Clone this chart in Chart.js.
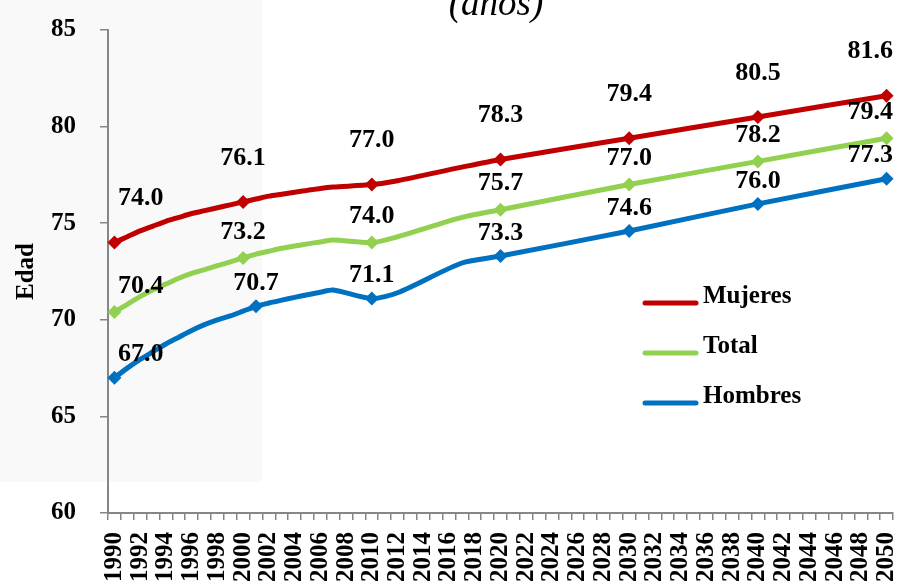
<!DOCTYPE html>
<html>
<head>
<meta charset="utf-8">
<script src="https://cdn.jsdelivr.net/npm/chart.js@4"></script>
<style>
  html, body { margin: 0; padding: 0; background: #ffffff; }
  #wrap { width: 900px; height: 585px; position: relative; }
</style>
</head>
<body>
<div id="wrap"><canvas id="grafica" width="900" height="585"></canvas></div>
<script>
// años 1990..2050
var anios = [];
for (var a = 1990; a <= 2050; a++) anios.push(String(a));

// valores (null = sin dato, la linea se une)
var mujeres = [74.0, 74.3, 74.6, 74.85, 75.1, 75.3, 75.5, 75.65, 75.8, 75.95,
  76.1, 76.25, 76.4, 76.5, 76.6, 76.7, 76.8, 76.87, null, null,
  77.0, null, 77.2, null, null, null, null, 77.9, null, null,
  78.3, null, null, null, null, null, null, null, null, null,
  79.4, null, null, null, null, null, null, null, null, null,
  80.5, null, null, null, null, null, null, null, null, null,
  81.6];

var total = [70.4, 70.8, 71.2, 71.55, 71.85, 72.15, 72.4, 72.6, 72.8, 73.0,
  73.2, 73.4, 73.55, 73.7, 73.82, 73.93, 74.03, 74.13, null, null,
  74.0, null, 74.3, null, null, null, null, 75.3, null, null,
  75.7, null, null, null, null, null, null, null, null, null,
  77.0, null, null, null, null, null, null, null, null, null,
  78.2, null, null, null, null, null, null, null, null, null,
  79.4];

var hombres = [67.0, 67.5, 67.95, 68.35, 68.75, 69.1, 69.45, 69.75, 70.0, 70.2,
  70.45, 70.7, 70.87, 71.02, 71.16, 71.3, 71.43, 71.54, null, null,
  71.1, null, 71.4, null, null, null, null, 72.94, null, null,
  73.3, null, null, null, null, null, null, null, null, null,
  74.6, null, null, null, null, null, null, null, null, null,
  76.0, null, null, null, null, null, null, null, null, null,
  77.3];

// años con marcador y etiqueta
var marcasM = ['1990', '2000', '2010', '2020', '2030', '2040', '2050'];
var marcasT = ['1990', '2000', '2010', '2020', '2030', '2040', '2050'];
var marcasH = ['1990', '2001', '2010', '2020', '2030', '2040', '2050'];

var yTicks = [60, 65, 70, 75, 80, 85];

var fuente = "'Liberation Serif', 'Times New Roman', serif";
var gris = '#868686';

function radioMarca(marcas) {
  return function (ctx) {
    return marcas.indexOf(anios[ctx.dataIndex]) >= 0 ? 7 : 0;
  };
}

var fondo = {
  id: 'fondo',
  beforeDraw: function (chart) {
    var c = chart.ctx;
    c.save();
    c.fillStyle = '#ffffff';
    c.fillRect(0, 0, chart.width, chart.height);
    c.fillStyle = '#f9f9f9';
    c.fillRect(0, 0, 262, 482);
    c.restore();
  }
};

var etiquetas = {
  id: 'etiquetas',
  afterDatasetsDraw: function (chart) {
    var c = chart.ctx;
    var area = chart.chartArea;
    c.save();
    c.font = 'bold 26px ' + fuente;
    c.fillStyle = '#000000';
    c.textAlign = 'center';
    c.textBaseline = 'middle';
    chart.data.datasets.forEach(function (ds, di) {
      var meta = chart.getDatasetMeta(di);
      ds.marcas.forEach(function (anio) {
        var i = anios.indexOf(anio);
        var p = meta.data[i];
        var txt = ds.data[i].toFixed(1);
        var w = c.measureText(txt).width;
        var x = Math.min(Math.max(p.x, area.left + 10 + w / 2), area.right - w / 2);
        c.fillText(txt, x, p.y - ds.desfase);
      });
    });
    c.restore();
  }
};

var leyenda = {
  id: 'leyenda',
  afterDraw: function (chart) {
    var c = chart.ctx;
    c.save();
    c.font = 'bold 25px ' + fuente;
    c.textBaseline = 'middle';
    c.lineCap = 'round';
    chart.data.datasets.forEach(function (ds, di) {
      var y = 297 + di * 50;
      c.strokeStyle = ds.borderColor;
      c.lineWidth = 5;
      c.beginPath();
      c.moveTo(645, y + 6);
      c.lineTo(696, y + 6);
      c.stroke();
      c.fillStyle = '#000000';
      c.fillText(ds.label, 703, y);
    });
    // titulo (cortado arriba)
    c.font = 'italic 37px ' + fuente;
    c.textAlign = 'center';
    c.textBaseline = 'alphabetic';
    c.fillText('(años)', 496, 15);
    c.restore();
  }
};

function serie(nombre, datos, color, marcas, desfase) {
  return {
    label: nombre,
    data: datos,
    borderColor: color,
    backgroundColor: color,
    borderWidth: 5,
    pointStyle: 'rectRot',
    pointRadius: radioMarca(marcas),
    pointHoverRadius: radioMarca(marcas),
    pointBorderWidth: 0,
    tension: 0.25,
    spanGaps: true,
    marcas: marcas,
    desfase: desfase
  };
}

var grafica = new Chart(document.getElementById('grafica').getContext('2d'), {
  type: 'line',
  data: {
    labels: anios,
    datasets: [
      serie('Mujeres', mujeres, '#C00000', marcasM, 44),
      serie('Total', total, '#92D050', marcasT, 26),
      serie('Hombres', hombres, '#0070C0', marcasH, 23)
    ]
  },
  options: {
    responsive: false,
    animation: false,
    layout: { padding: { top: 30, right: 4, left: 0, bottom: 0 } },
    plugins: {
      legend: { display: false },
      title: { display: false },
      tooltip: { enabled: false }
    },
    scales: {
      x: {
        type: 'category',
        offset: true,
        grid: {
          display: true,
          offset: true,
          drawOnChartArea: false,
          drawTicks: true,
          tickLength: 7,
          color: gris,
          lineWidth: 1.5
        },
        border: { display: true, color: gris, width: 2 },
        ticks: {
          autoSkip: false,
          minRotation: 90,
          maxRotation: 90,
          padding: 12,
          color: '#000000',
          font: { family: fuente, size: 25, weight: 'bold' },
          callback: function (val, idx) {
            return idx % 2 === 0 ? anios[idx] : '';
          }
        },
        afterFit: function (s) {
          s.height = 72;
          s.paddingLeft = 0;
          s.paddingRight = 0;
        }
      },
      y: {
        min: yTicks[0],
        max: yTicks[yTicks.length - 1],
        afterBuildTicks: function (s) {
          s.ticks = yTicks.map(function (v) { return { value: v }; });
        },
        grid: {
          display: true,
          drawOnChartArea: false,
          drawTicks: true,
          tickLength: 8,
          color: gris,
          lineWidth: 1.5
        },
        border: { display: true, color: gris, width: 2 },
        ticks: {
          padding: 24,
          color: '#000000',
          font: { family: fuente, size: 25, weight: 'bold' }
        },
        title: {
          display: true,
          text: 'Edad',
          color: '#000000',
          padding: { top: 12, bottom: 0 },
          font: { family: fuente, size: 25, weight: 'bold' }
        },
        afterFit: function (s) {
          s.width = 108;
          s.paddingTop = 0;
          s.paddingBottom = 0;
        }
      }
    }
  },
  plugins: [fondo, etiquetas, leyenda]
});
</script>
</body>
</html>
